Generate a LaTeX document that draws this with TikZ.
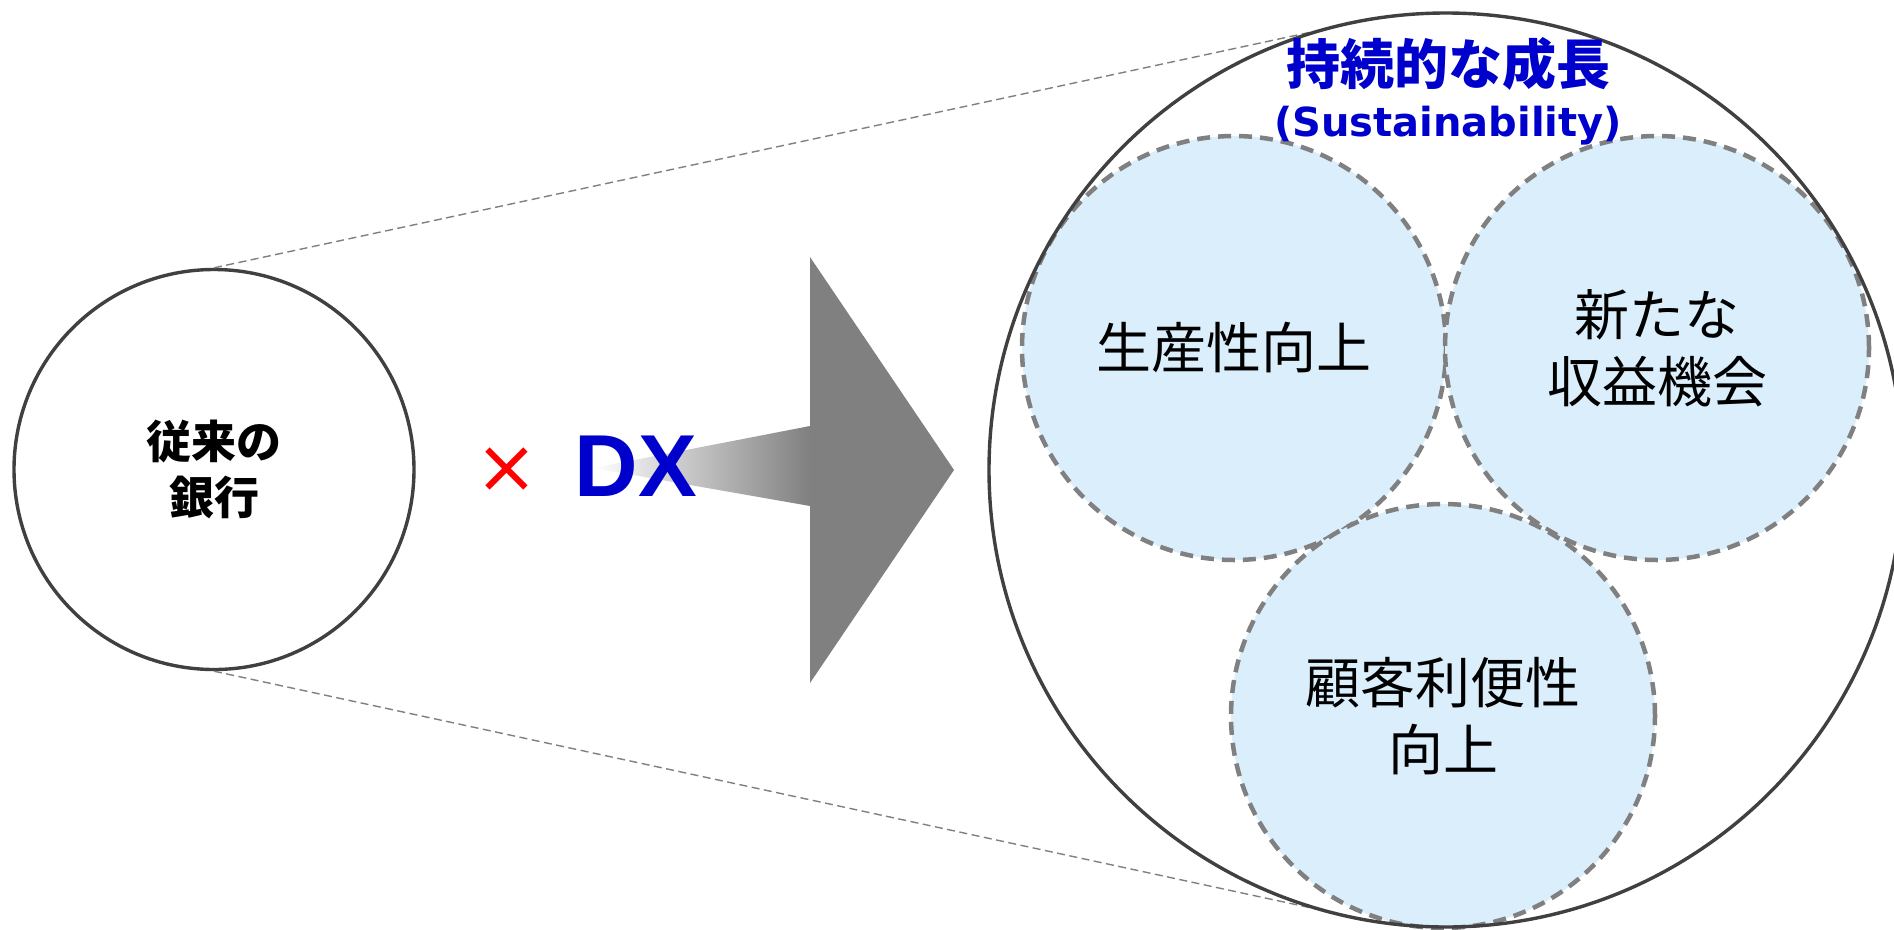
\documentclass[tikz,border=0pt]{standalone}
\usepackage{fontspec}
\newfontfamily\jp{Noto Sans CJK JP}
\newfontfamily\dejavu{DejaVu Sans}
\newfontfamily\arialfont{Liberation Sans}
\definecolor{titleblue}{HTML}{0000CC}
\definecolor{ringgray}{HTML}{404040}
\definecolor{dashgray}{HTML}{808080}
\definecolor{bubble}{HTML}{DAEEFC}
\definecolor{arrowgray}{HTML}{808080}
\begin{document}
\begin{tikzpicture}[x=1pt,y=-1pt,
  ring/.style={circle, draw=ringgray, line width=3.4pt, inner sep=0pt, minimum size=#1},
  bubblenode/.style={circle, fill=bubble, draw=dashgray, line width=4.5pt, dash pattern=on 13pt off 8pt, inner sep=0pt, minimum size=424pt, align=center, font=\jp\fontsize{55}{67}\selectfont},
  guide/.style={draw=dashgray, line width=1.4pt, dash pattern=on 8pt off 4.5pt}
]
\useasboundingbox[fill=white] (0,0) rectangle (1894,929);
% left circle
\node[ring=400pt, align=center, font=\jp\bfseries\fontsize{45}{56}\selectfont] (bank) at (214,469.5) {従来の\\銀行};
% big circle (outline drawn later)
\coordinate (gc) at (1446,470);
\node[circle, inner sep=0pt, minimum size=914pt] (growth) at (gc) {};
% guide lines
\draw[guide] (bank.north) -- (growth.99);
\draw[guide] (bank.south) -- (growth.261);
% bubbles
\node[bubblenode] (prod) at (1234,348) {生産性向上};
\node[bubblenode] (revenue) at (1657,348) {新たな\\収益機会};
\node[bubblenode] (conv) at (1443,716) {顧客利便性\\向上};
% big ring outline
\node[ring=914pt] (growthring) at (gc) {};
% title
\node[font=\jp\bfseries\fontsize{54}{60}\selectfont, text=titleblue] (title) at (1448,64) {持続的な成長};
\node[font=\dejavu\bfseries\fontsize{40}{45}\selectfont, text=titleblue] (subtitle) at (1448,126) {(Sustainability)};
% arrow
\shade[left color=white, right color=arrowgray] (593,468) -- (810,426) -- (810,506) -- cycle;
\fill[arrowgray] (810,257) -- (954,470) -- (810,683) -- cycle;
% times and DX
\node[text=red, font=\dejavu\fontsize{75}{75}\selectfont, inner sep=0pt] (times) at (507,470) {×};
\node[text=titleblue, font=\arialfont\bfseries\fontsize{88}{88}\selectfont, inner sep=0pt] (dx) at (636,466.5) {DX};
\end{tikzpicture}
\end{document}
